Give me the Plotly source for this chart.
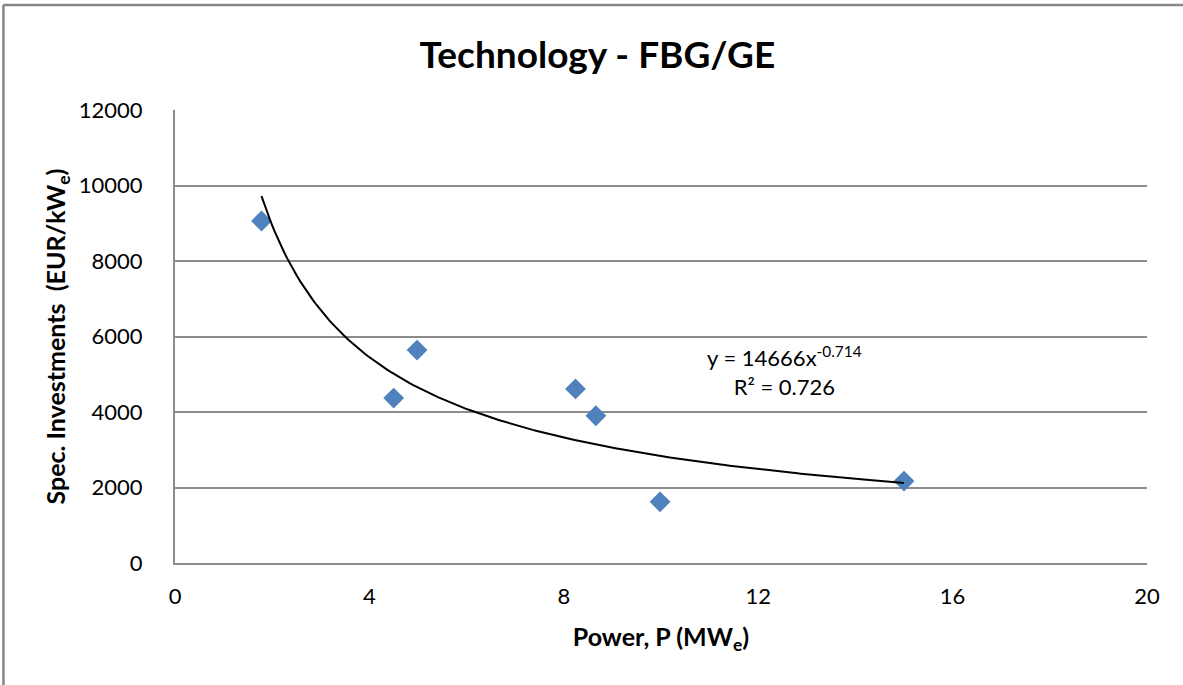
import numpy as np
import plotly.graph_objects as go

# Installed electric power (MWe) and specific investment (EUR/kWe)
power_mw = [1.78, 4.5, 4.98, 8.24, 8.66, 9.98, 15.0]
spec_invest = [9060, 4370, 5640, 4610, 3900, 1620, 2170]

# Power-law fit shown on the chart
fit_coef = 14666
fit_exp = -0.714
fit_r2 = 0.726

x_ticks = [0, 4, 8, 12, 16, 20]
y_ticks = [0, 2000, 4000, 6000, 8000, 10000, 12000]

FONT = "Lato, 'Open Sans', sans-serif"
GRID = "#8c8c8c"

fit_x = np.linspace(min(power_mw), max(power_mw), 200)
fit_y = fit_coef * fit_x ** fit_exp

fig = go.Figure()
fig.add_trace(go.Scatter(
    x=power_mw, y=spec_invest, mode="markers",
    marker=dict(symbol="diamond", size=16, color="#4F81BD",
                line=dict(width=0)),
    showlegend=False, hoverinfo="x+y",
))
fig.add_trace(go.Scatter(
    x=fit_x, y=fit_y, mode="lines",
    line=dict(color="black", width=2),
    showlegend=False, hoverinfo="skip",
))

fig.add_annotation(
    x=12.55, y=5080, xref="x", yref="y",
    text=f"y = {fit_coef}x<sup>{fit_exp}</sup><br>R² = {fit_r2}",
    showarrow=False, align="center",
    font=dict(family=FONT, size=22, color="black"),
)

# outer chart frame (top and left edges)
fig.add_shape(type="line", xref="paper", yref="paper",
              x0=-0.1765, x1=1.04, y0=1.2318, y1=1.2318,
              line=dict(color="#868686", width=2.5))
fig.add_shape(type="line", xref="paper", yref="paper",
              x0=-0.1765, x1=-0.1765, y0=1.2318, y1=-0.28,
              line=dict(color="#868686", width=2.5))

fig.update_layout(
    width=1183, height=685,
    margin=dict(l=175, r=36, t=110, b=122),
    paper_bgcolor="white", plot_bgcolor="white",
    font=dict(family=FONT, color="black"),
    title=dict(text="<b>Technology - FBG/GE</b>", x=0.505, xanchor="center",
               y=0.92, yanchor="middle", xref="container", yref="container",
               font=dict(family=FONT, size=37, color="black")),
    xaxis=dict(
        range=[0, 20], tickvals=x_ticks, ticktext=[str(v) for v in x_ticks],
        showgrid=False, zeroline=False,
        showline=True, linecolor=GRID, linewidth=2,
        ticks="", ticklabelstandoff=13,
        tickfont=dict(family=FONT, size=22, color="black"),
        title=dict(text="<b>Power, P (MW<sub>e</sub>)</b>", standoff=20,
                   font=dict(family=FONT, size=25, color="black")),
        automargin=False,
    ),
    yaxis=dict(
        range=[0, 12000], tickvals=y_ticks, ticktext=[str(v) for v in y_ticks],
        showgrid=True, gridcolor=GRID, gridwidth=2,
        zeroline=False,
        showline=True, linecolor=GRID, linewidth=2,
        ticks="", ticklabelstandoff=26,
        tickfont=dict(family=FONT, size=22, color="black"),
        title=dict(text="<b>Spec. Investments  (EUR/kW<sub>e</sub>)</b>", standoff=6,
                   font=dict(family=FONT, size=25, color="black")),
        automargin=False,
    ),
)

fig.write_html("out.html")
